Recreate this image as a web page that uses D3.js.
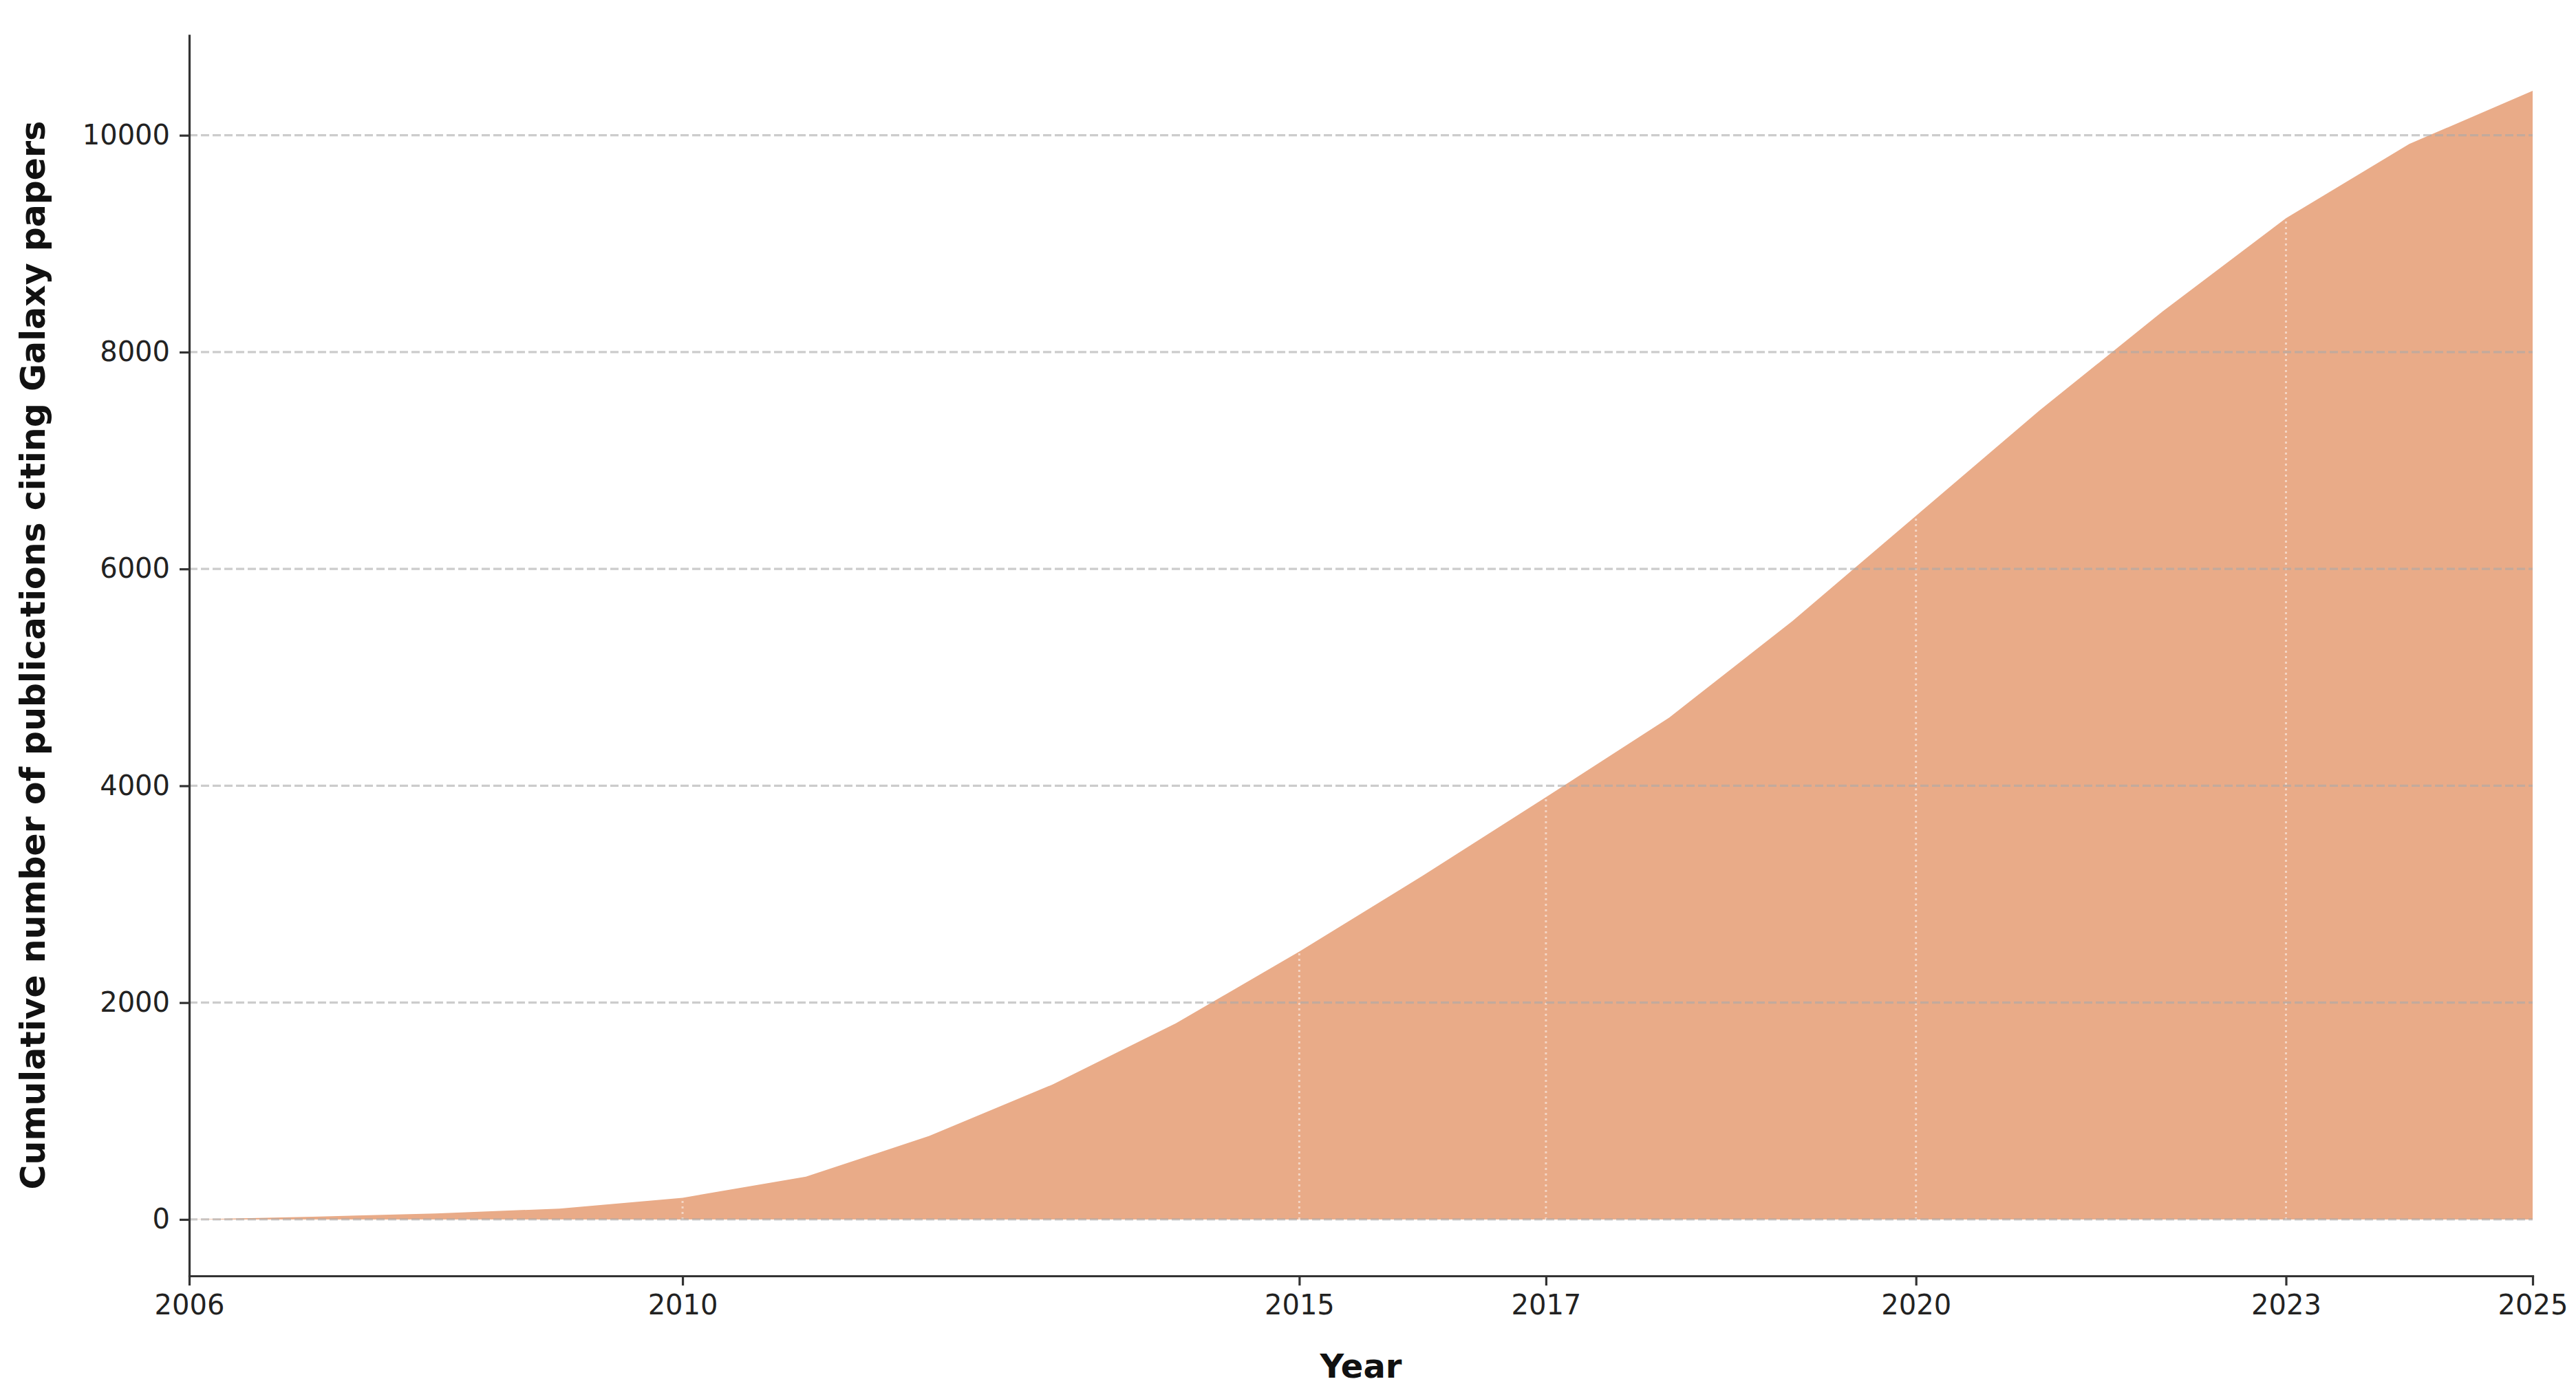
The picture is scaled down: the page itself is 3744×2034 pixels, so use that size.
<!DOCTYPE html>
<html>
<head>
<meta charset="utf-8">
<script src="https://cdn.jsdelivr.net/npm/d3@7"></script>
<style>
	body { margin: 0; background: #fff; }
	svg { display: block; font-family: "DejaVu Sans", sans-serif; }
	.tick text { fill: #222; font-size: 40px; }
	.label { font-weight: bold; font-size: 48px; fill: #111; }
	.ylabel { font-size: 49px; }
</style>
</head>
<body>
<svg id="chart"></svg>
<script>
//data
var years = [2006, 2007, 2008, 2009, 2010, 2011, 2012, 2013, 2014, 2015,
	2016, 2017, 2018, 2019, 2020, 2021, 2022, 2023, 2024, 2025];
var cumulative = [0, 25, 55, 100, 200, 394, 770, 1245, 1810, 2470,
	3170, 3895, 4630, 5520, 6490, 7460, 8375, 9235, 9920, 10410];
var xTicks = [2006, 2010, 2015, 2017, 2020, 2023, 2025];
var yTicks = [0, 2000, 4000, 6000, 8000, 10000];
var markYears = [2010, 2015, 2017, 2020, 2023];

var width = 3744, height = 2034;
var margin = {left: 275, right: 3681, top: 50, bottom: 1855};

var data = years.map(function(d, i) { return {year: d, value: cumulative[i]}; });

var svg = d3.select("#chart")
	.attr("width", width)
	.attr("height", height);

//set up scale, 5% margin on y like matplotlib
var ymax = d3.max(cumulative);
var x = d3.scaleLinear().domain([2006, 2025]).range([margin.left, margin.right]);
var y = d3.scaleLinear().domain([-0.05 * ymax, 1.05 * ymax]).range([margin.bottom, margin.top]);

//filled area
var area = d3.area()
	.x(function(d) { return x(d.year); })
	.y0(y(0))
	.y1(function(d) { return y(d.value); });

svg.append("path")
	.datum(data)
	.attr("fill", "#e9ab88")
	.attr("d", area);

//dotted markers at highlighted years, inside the fill only
svg.selectAll(".mark")
	.data(data.filter(function(d) { return markYears.indexOf(d.year) >= 0; }))
	.enter().append("line")
	.attr("class", "mark")
	.attr("x1", function(d) { return x(d.year); })
	.attr("x2", function(d) { return x(d.year); })
	.attr("y1", y(0))
	.attr("y2", function(d) { return y(d.value); })
	.attr("stroke", "#fff")
	.attr("stroke-opacity", 0.5)
	.attr("stroke-width", 3)
	.attr("stroke-dasharray", "3,5");

//horizontal grid on top of the fill
svg.selectAll(".grid")
	.data(yTicks)
	.enter().append("line")
	.attr("class", "grid")
	.attr("x1", margin.left)
	.attr("x2", margin.right)
	.attr("y1", function(d) { return y(d); })
	.attr("y2", function(d) { return y(d); })
	.attr("stroke", "#aaaaaa")
	.attr("stroke-opacity", 0.6)
	.attr("stroke-width", 3.2)
	.attr("stroke-dasharray", "12,5");

//draw axis
var gx = svg.append("g")
	.attr("transform", "translate(0," + margin.bottom + ")")
	.call(d3.axisBottom(x).tickValues(xTicks).tickFormat(d3.format("d"))
		.tickSize(14).tickSizeOuter(0).tickPadding(14));

var gy = svg.append("g")
	.attr("transform", "translate(" + margin.left + ",0)")
	.call(d3.axisLeft(y).tickValues(yTicks).tickFormat(d3.format("d"))
		.tickSize(14).tickSizeOuter(0).tickPadding(14));

[gx, gy].forEach(function(g) {
	g.attr("font-family", null).attr("font-size", null);
	g.select(".domain").attr("stroke", "#333").attr("stroke-width", 3.2);
	g.selectAll(".tick line").attr("stroke", "#333").attr("stroke-width", 3.2);
});
gx.select(".domain").attr("stroke-linecap", "square");

//draw labels
svg.append("text")
	.attr("class", "label")
	.attr("text-anchor", "middle")
	.attr("x", (margin.left + margin.right) / 2)
	.attr("y", 2003)
	.text("Year");

svg.append("text")
	.attr("class", "label ylabel")
	.attr("text-anchor", "middle")
	.attr("transform", "translate(65," + (margin.top + margin.bottom) / 2 + ") rotate(-90)")
	.text("Cumulative number of publications citing Galaxy papers");
</script>
</body>
</html>
